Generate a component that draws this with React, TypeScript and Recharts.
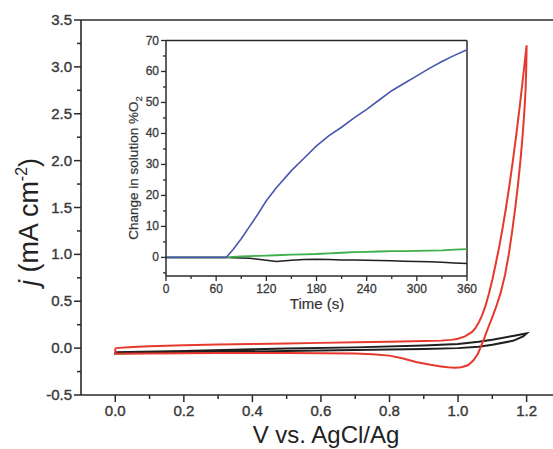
import React from "react";
import { LineChart, Line, XAxis, YAxis, ReferenceLine } from "recharts";

// cyclic voltammograms (V vs. AgCl/Ag, j in mA cm-2)
const redForwardV = [0, 0.05, 0.1, 0.2, 0.3, 0.4, 0.5, 0.6, 0.7, 0.8, 0.9, 0.95, 0.98, 1.0, 1.02, 1.04, 1.05, 1.06, 1.07, 1.08, 1.09, 1.1, 1.11, 1.12, 1.13, 1.14, 1.15, 1.16, 1.17, 1.18, 1.19, 1.2];
const redForwardJ = [0, 0.012, 0.02, 0.03, 0.038, 0.045, 0.05, 0.056, 0.062, 0.068, 0.075, 0.08, 0.088, 0.1, 0.125, 0.17, 0.21, 0.27, 0.35, 0.45, 0.58, 0.73, 0.9, 1.08, 1.28, 1.5, 1.74, 2.0, 2.28, 2.58, 2.9, 3.23];
const redReverseV = [1.2, 1.199, 1.197, 1.193, 1.188, 1.182, 1.175, 1.167, 1.158, 1.148, 1.137, 1.125, 1.112, 1.1, 1.088, 1.078, 1.068, 1.058, 1.045, 1.03, 1.01, 0.99, 0.97, 0.95, 0.92, 0.88, 0.84, 0.8, 0.75, 0.7, 0.6, 0.5, 0.4, 0.3, 0.2, 0.1, 0, 0];
const redReverseJ = [3.23, 3.0, 2.75, 2.5, 2.25, 2.0, 1.75, 1.5, 1.25, 1.0, 0.78, 0.6, 0.45, 0.33, 0.22, 0.12, 0.03, -0.06, -0.13, -0.18, -0.203, -0.208, -0.205, -0.195, -0.178, -0.15, -0.11, -0.08, -0.065, -0.058, -0.054, -0.052, -0.052, -0.053, -0.055, -0.057, -0.06, 0];
const blackForwardV = [0, 0.2, 0.4, 0.5, 0.7, 0.9, 1.0, 1.06, 1.1, 1.16, 1.19, 1.2];
const blackForwardJ = [-0.045, -0.03, -0.012, -0.004, 0.008, 0.028, 0.045, 0.067, 0.09, 0.13, 0.15, 0.157];
const blackReverseV = [1.2, 1.19, 1.16, 1.1, 1.06, 1.0, 0.9, 0.7, 0.5, 0.3, 0.1, 0, 0];
const blackReverseJ = [0.157, 0.125, 0.078, 0.035, 0.014, 0.0, -0.01, -0.02, -0.03, -0.04, -0.05, -0.058, -0.045];

// inset: change in solution %O2 vs time
const timeS = [0, 15, 30, 45, 60, 72, 80, 90, 100, 110, 120, 132, 150, 165, 180, 195, 210, 225, 240, 255, 270, 285, 300, 315, 330, 345, 360];
const blueO2 = [0, 0, 0, 0, 0, 0, 2.5, 6, 10, 14, 18.3, 22.5, 28, 32, 36, 39.3, 42, 45, 47.8, 50.8, 53.8, 56.2, 58.6, 61, 63.2, 65.2, 67];
const greenO2 = [0, 0, 0, 0, 0, 0, 0.2, 0.3, 0.4, 0.5, 0.6, 0.7, 0.9, 1.0, 1.1, 1.3, 1.5, 1.7, 1.8, 1.9, 2.0, 2.0, 2.1, 2.2, 2.3, 2.5, 2.7];
const blackO2 = [0, 0, 0, 0, 0, 0, -0.1, -0.2, -0.3, -0.6, -0.9, -1.3, -0.9, -0.7, -0.6, -0.7, -0.8, -0.8, -0.9, -1.0, -1.1, -1.2, -1.3, -1.4, -1.6, -1.8, -2.0];

const mainXTicks = [0, 0.1, 0.2, 0.3, 0.4, 0.5, 0.6, 0.7, 0.8, 0.9, 1.0, 1.1, 1.2];
const mainYTicks = [-0.5, -0.25, 0, 0.25, 0.5, 0.75, 1.0, 1.25, 1.5, 1.75, 2.0, 2.25, 2.5, 2.75, 3.0, 3.25, 3.5];
const insetXTicks = [0, 30, 60, 90, 120, 150, 180, 210, 240, 270, 300, 330, 360];
const insetYTicks = [-5, 0, 5, 10, 15, 20, 25, 30, 35, 40, 45, 50, 55, 60, 65, 70];

const FONT = "'Liberation Sans', Arial, Helvetica, sans-serif";
const AXIS = "#2a2a2a";
const RED = "#e6392d";
const BLUE = "#4a56ad";
const GREEN = "#3cb04a";
const BLACK = "#1f1f1f";
const TICK_TEXT = "#3a3a3a";

const toPts = (xs: number[], ys: number[]) => xs.map((v, i) => ({ v, j: ys[i] }));
const redLoop = [...toPts(redForwardV, redForwardJ), ...toPts(redReverseV, redReverseJ)];
const blackLoop = [...toPts(blackForwardV, blackForwardJ), ...toPts(blackReverseV, blackReverseJ)];
const insetData = timeS.map((t, i) => ({ t, blue: blueO2[i], green: greenO2[i], black: blackO2[i] }));

const isMult = (v: number, step: number) => Math.abs(v / step - Math.round(v / step)) < 1e-6;

const MainXTick = (props: any) => {
  const { x, y, payload } = props;
  const major = isMult(payload.value, 0.2);
  return (
    <g>
      <line x1={x} x2={x} y1={y} y2={y + (major ? 7 : 4)} stroke={AXIS} strokeWidth={1.5} />
      {major && (
        <text x={x} y={y + 21} textAnchor="middle" fontSize={15} fill={TICK_TEXT} stroke={TICK_TEXT} strokeWidth={0.4} fontFamily={FONT}>
          {payload.value.toFixed(1)}
        </text>
      )}
    </g>
  );
};

const MainYTick = (props: any) => {
  const { x, y, payload } = props;
  const major = isMult(payload.value, 0.5);
  return (
    <g>
      <line x1={x} x2={x - (major ? 7 : 4)} y1={y} y2={y} stroke={AXIS} strokeWidth={1.5} />
      {major && (
        <text x={x - 9} y={y + 5} textAnchor="end" fontSize={15} fill={TICK_TEXT} stroke={TICK_TEXT} strokeWidth={0.4} fontFamily={FONT}>
          {payload.value.toFixed(1)}
        </text>
      )}
    </g>
  );
};

const InsetXTick = (props: any) => {
  const { x, y, payload } = props;
  const major = isMult(payload.value, 60);
  return (
    <g>
      <line x1={x} x2={x} y1={y} y2={y + (major ? 5 : 3)} stroke={AXIS} strokeWidth={1.3} />
      {major && (
        <text x={x} y={y + 17} textAnchor="middle" fontSize={12} fill={TICK_TEXT} stroke={TICK_TEXT} strokeWidth={0.3} fontFamily={FONT}>
          {payload.value}
        </text>
      )}
    </g>
  );
};

const InsetYTick = (props: any) => {
  const { x, y, payload } = props;
  const major = isMult(payload.value, 10);
  return (
    <g>
      <line x1={x} x2={x - (major ? 5 : 3)} y1={y} y2={y} stroke={AXIS} strokeWidth={1.3} />
      {major && (
        <text x={x - 7} y={y + 4} textAnchor="end" fontSize={12} fill={TICK_TEXT} stroke={TICK_TEXT} strokeWidth={0.3} fontFamily={FONT}>
          {payload.value}
        </text>
      )}
    </g>
  );
};

export default function App() {
  return (
    <div style={{ position: "absolute", left: 0, top: 0, width: 553, height: 449, background: "#fff", overflow: "hidden" }}>
      <div style={{ position: "absolute", left: 0, top: 0 }}>
        <LineChart width={553} height={449} margin={{ top: 20, right: 0, left: 0, bottom: 0 }}>
          <XAxis
            type="number"
            dataKey="v"
            domain={[-0.1, 1.277]}
            allowDataOverflow
            ticks={mainXTicks}
            interval={0}
            height={54}
            tickSize={0}
            tickMargin={0}
            tickLine={false}
            tick={<MainXTick />}
            axisLine={{ stroke: AXIS, strokeWidth: 1.6 }}
          />
          <YAxis
            type="number"
            domain={[-0.5, 3.5]}
            allowDataOverflow
            ticks={mainYTicks}
            interval={0}
            width={81}
            tickSize={0}
            tickMargin={0}
            tickLine={false}
            tick={<MainYTick />}
            axisLine={{ stroke: AXIS, strokeWidth: 1.6 }}
          />
          <ReferenceLine y={3.5} stroke={AXIS} strokeWidth={1.6} />
          <Line data={blackLoop} dataKey="j" type="linear" stroke={BLACK} strokeWidth={2} dot={false} isAnimationActive={false} />
          <Line data={redLoop} dataKey="j" type="linear" stroke={RED} strokeWidth={2} dot={false} isAnimationActive={false} />
        </LineChart>
      </div>

      <div style={{ position: "absolute", left: 110, top: 30 }}>
        <LineChart width={370} height={290} data={insetData} margin={{ top: 10.5, right: 13, left: 0, bottom: 0 }}>
          <XAxis
            type="number"
            dataKey="t"
            domain={[0, 360]}
            ticks={insetXTicks}
            interval={0}
            height={44}
            tickSize={0}
            tickMargin={0}
            tickLine={false}
            tick={<InsetXTick />}
            axisLine={{ stroke: AXIS, strokeWidth: 1.5 }}
          />
          <YAxis
            type="number"
            domain={[-6, 70]}
            allowDataOverflow
            ticks={insetYTicks}
            interval={0}
            width={56}
            tickSize={0}
            tickMargin={0}
            tickLine={false}
            tick={<InsetYTick />}
            axisLine={{ stroke: AXIS, strokeWidth: 1.5 }}
          />
          <ReferenceLine y={70} stroke={AXIS} strokeWidth={1.5} />
          <ReferenceLine x={360} stroke={AXIS} strokeWidth={1.5} />
          <Line dataKey="black" type="linear" stroke={BLACK} strokeWidth={1.5} dot={false} isAnimationActive={false} />
          <Line dataKey="green" type="linear" stroke={GREEN} strokeWidth={1.8} dot={false} isAnimationActive={false} />
          <Line dataKey="blue" type="linear" stroke={BLUE} strokeWidth={1.6} dot={false} isAnimationActive={false} />
        </LineChart>
      </div>

      <svg width={553} height={449} style={{ position: "absolute", left: 0, top: 0, pointerEvents: "none" }}>
        <text transform="translate(38,222) rotate(-90)" textAnchor="middle" fontSize={27} fill="#222" fontFamily={FONT}>
          <tspan fontStyle="italic">j</tspan> (mA cm<tspan dy={-11} fontSize={16}>-2</tspan>
          <tspan dy={11}>)</tspan>
        </text>
        <text x={326} y={443} textAnchor="middle" fontSize={24} fill="#222" fontFamily={FONT}>
          V vs. AgCl/Ag
        </text>
        <text transform="translate(138,168) rotate(-90)" textAnchor="middle" fontSize={13.5} fill="#333" stroke="#333" strokeWidth={0.2} fontFamily={FONT}>
          Change in solution %O<tspan dy={4} fontSize={9.5}>2</tspan>
        </text>
        <text x={317} y={309} textAnchor="middle" fontSize={15} fill="#333" stroke="#333" strokeWidth={0.2} fontFamily={FONT}>
          Time (s)
        </text>
      </svg>
    </div>
  );
}
